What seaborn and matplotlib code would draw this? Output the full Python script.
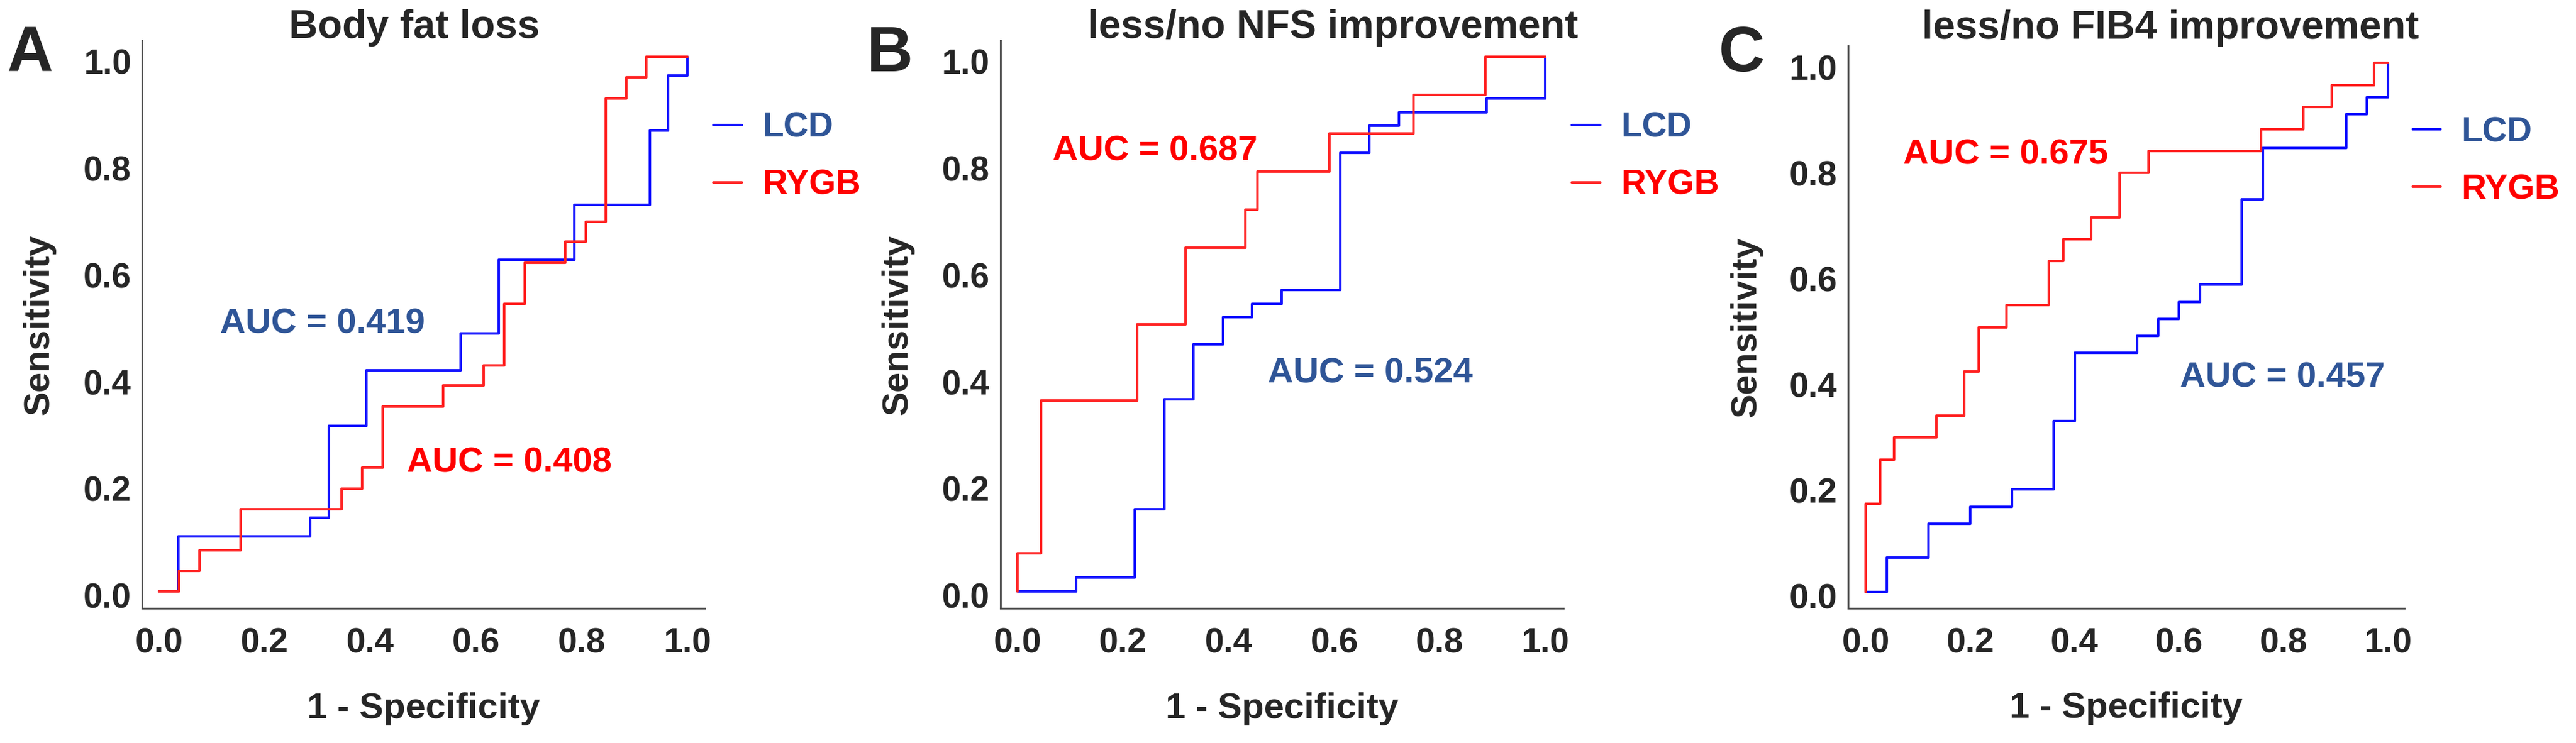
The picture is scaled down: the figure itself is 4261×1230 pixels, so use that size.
import numpy as np
import pandas as pd
import matplotlib.pyplot as plt
import seaborn as sns
from matplotlib.transforms import ScaledTranslation

# =======================
# ROC step corners (1 - specificity, sensitivity)
# =======================
fat_lcd_fpr = [0.0, 0.036, 0.286, 0.321, 0.393, 0.571, 0.643, 0.786, 0.929, 0.964, 1.0]
fat_lcd_tpr = [0.0, 0.103, 0.138, 0.310, 0.414, 0.483, 0.621, 0.724, 0.862, 0.966, 1.0]
fat_rygb_fpr = [0.0, 0.038, 0.077, 0.154, 0.346, 0.385, 0.423, 0.538, 0.615, 0.654,
                0.692, 0.769, 0.808, 0.846, 0.885, 0.923, 1.0]
fat_rygb_tpr = [0.0, 0.038, 0.077, 0.154, 0.192, 0.231, 0.346, 0.385, 0.423, 0.538,
                0.615, 0.654, 0.692, 0.923, 0.962, 1.0, 1.0]

nfs_lcd_fpr = [0.0, 0.111, 0.222, 0.278, 0.333, 0.389, 0.444, 0.5, 0.611, 0.667, 0.722, 0.889, 1.0]
nfs_lcd_tpr = [0.0, 0.026, 0.154, 0.359, 0.462, 0.513, 0.538, 0.564, 0.821, 0.872, 0.897, 0.923, 1.0]
nfs_rygb_fpr = [0.0, 0.0, 0.045, 0.227, 0.318, 0.432, 0.455, 0.591, 0.75, 0.886, 1.0]
nfs_rygb_tpr = [0.0, 0.071, 0.357, 0.5, 0.643, 0.714, 0.786, 0.857, 0.929, 1.0, 1.0]

fib4_lcd_fpr = [0.0, 0.04, 0.12, 0.2, 0.28, 0.36, 0.4, 0.52, 0.56, 0.6, 0.64, 0.72, 0.76, 0.92, 0.96, 1.0]
fib4_lcd_tpr = [0.0, 0.065, 0.129, 0.161, 0.194, 0.323, 0.452, 0.484, 0.516, 0.548, 0.581,
                0.742, 0.839, 0.903, 0.935, 1.0]
fib4_rygb_fpr = [0.0, 0.0, 0.027, 0.054, 0.135, 0.189, 0.216, 0.270, 0.351, 0.378, 0.432,
                 0.486, 0.541, 0.757, 0.838, 0.892, 0.973, 1.0]
fib4_rygb_tpr = [0.0, 0.167, 0.25, 0.292, 0.333, 0.417, 0.5, 0.542, 0.625, 0.667, 0.708,
                 0.792, 0.833, 0.875, 0.917, 0.958, 1.0, 1.0]

panel_letters = ["A", "B", "C"]
panel_titles = ["Body fat loss", "less/no NFS improvement", "less/no FIB4 improvement"]
auc_lcd = [0.419, 0.524, 0.457]
auc_rygb = [0.408, 0.687, 0.675]
groups = ["LCD", "RYGB"]
tick_values = [0.0, 0.2, 0.4, 0.6, 0.8, 1.0]
tick_labels = ["0.0", "0.2", "0.4", "0.6", "0.8", "1.0"]

curves = [
    (fat_lcd_fpr, fat_lcd_tpr, fat_rygb_fpr, fat_rygb_tpr),
    (nfs_lcd_fpr, nfs_lcd_tpr, nfs_rygb_fpr, nfs_rygb_tpr),
    (fib4_lcd_fpr, fib4_lcd_tpr, fib4_rygb_fpr, fib4_rygb_tpr),
]

# =======================
# Style / layout
# =======================
sns.set_style("white")
plt.rcParams["font.family"] = ["Liberation Sans", "DejaVu Sans"]
plt.rcParams["font.weight"] = "bold"

line_colors = {"LCD": "#1414ff", "RYGB": "#ff2424"}
text_colors = {"LCD": "#2f5597", "RYGB": "#ff0000"}

axes_rects = [
    [0.0552, 0.1813, 0.2185, 0.7642],
    [0.3884, 0.1813, 0.2185, 0.7642],
    [0.7174, 0.1813, 0.2159, 0.7569],
]
xlims = [(-0.032, 1.034), (-0.032, 1.034), (-0.034, 1.031)]
ylims = [(-0.032, 1.031), (-0.032, 1.031), (-0.031, 1.032)]
title_x = [0.484, 0.59, 0.58]
title_pad = [3, 3, 9]
letter_x = [0.0026, 0.3365, 0.6672]
auc_lcd_pos = [(0.116, 0.483), (0.474, 0.390), (0.602, 0.387)]
auc_rygb_pos = [(0.469, 0.223), (0.066, 0.806), (0.072, 0.809)]

fig = plt.figure(figsize=(42.61, 12.30), dpi=100)
# y tick labels sit a few pixels below their tick in the original
ylab_shift = ScaledTranslation(0, -7 / 100, fig.dpi_scale_trans)

for i in range(3):
    ax = fig.add_axes(axes_rects[i])
    lcd_x, lcd_y, ry_x, ry_y = curves[i]
    df = pd.DataFrame({
        "fpr": lcd_x + ry_x,
        "tpr": lcd_y + ry_y,
        "group": ["LCD"] * len(lcd_x) + ["RYGB"] * len(ry_x),
    })
    sns.lineplot(data=df, x="fpr", y="tpr", hue="group", hue_order=groups,
                 palette=line_colors, estimator=None, sort=False,
                 drawstyle="steps-post", linewidth=3.0, legend=False, ax=ax)

    ax.set_xlim(*xlims[i])
    ax.set_ylim(*ylims[i])
    ax.set_xticks(tick_values, tick_labels)
    ax.set_yticks(tick_values, tick_labels)
    ax.tick_params(axis="both", length=0, labelsize=41)
    ax.tick_params(axis="x", pad=23)
    ax.tick_params(axis="y", pad=13)
    for lab in ax.get_xticklabels() + ax.get_yticklabels():
        lab.set_fontweight("bold")
    for lab in ax.get_yticklabels():
        lab.set_transform(lab.get_transform() + ylab_shift)

    sns.despine(ax=ax)
    for side in ["left", "bottom"]:
        ax.spines[side].set_color("#4d4d4d")
        ax.spines[side].set_linewidth(2.2)

    ax.set_xlabel("1 - Specificity", fontsize=43, fontweight="bold")
    ax.set_ylabel("Sensitivity", fontsize=43, fontweight="bold")
    ax.xaxis.set_label_coords(0.5, -0.148)
    ax.yaxis.set_label_coords(-0.153, 0.5)
    ax.set_title(panel_titles[i], fontsize=47.5, fontweight="bold",
                 x=title_x[i], pad=title_pad[i])

    ax.text(*auc_lcd_pos[i], f"AUC = {auc_lcd[i]:.3f}", color=text_colors["LCD"],
            fontsize=42, fontweight="bold", ha="left", va="baseline")
    ax.text(*auc_rygb_pos[i], f"AUC = {auc_rygb[i]:.3f}", color=text_colors["RYGB"],
            fontsize=42, fontweight="bold", ha="left", va="baseline")

    handles = ax.get_lines()[:2]
    ax.legend(handles, groups, loc="upper left", bbox_to_anchor=(1.015, 0.875),
              frameon=False, fontsize=41, handlelength=0.82, handletextpad=0.6,
              labelspacing=0.72, borderpad=0, borderaxespad=0,
              labelcolor=[text_colors[g] for g in groups])

    fig.text(letter_x[i], 0.904, panel_letters[i], fontsize=76, fontweight="bold",
             ha="left", va="baseline")

plt.savefig("out.png", dpi=100)
